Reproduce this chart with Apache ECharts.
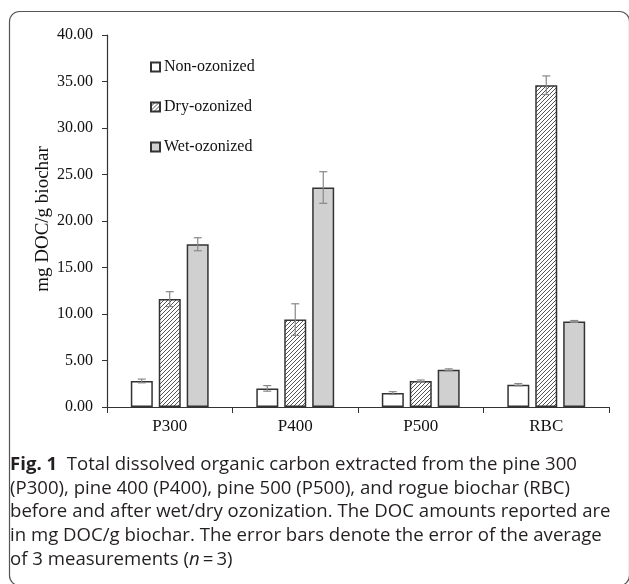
<!DOCTYPE html>
<html>
<head>
<meta charset="utf-8">
<script src="https://cdn.jsdelivr.net/npm/echarts@6/dist/echarts.min.js"></script>
<style>
  html, body { margin: 0; padding: 0; background: #fff; }
  #chart { width: 629px; height: 584px; }
</style>
</head>
<body>
<div id="chart"></div>
<script>
// data
var categories = ['P300', 'P400', 'P500', 'RBC'];
var seriesNames = ['Non-ozonized', 'Dry-ozonized', 'Wet-ozonized'];
var nonOzonized = [2.8, 2.0, 1.5, 2.4];
var nonOzonizedErr = [0.2, 0.3, 0.15, 0.12];
var dryOzonized = [11.6, 9.4, 2.8, 34.6];
var dryOzonizedErr = [0.8, 1.7, 0.1, 1.0];
var wetOzonized = [17.5, 23.6, 4.0, 9.2];
var wetOzonizedErr = [0.7, 1.7, 0.1, 0.1];
var captionLines = [
    'Total dissolved organic carbon extracted from the pine 300',
    '(P300), pine 400 (P400), pine 500 (P500), and rogue biochar (RBC)',
    'before and after wet/dry ozonization. The DOC amounts reported are',
    'in mg DOC/g biochar. The error bars denote the error of the average',
    'of 3 measurements ('
];

var serif = '"Liberation Serif", "DejaVu Serif", serif';
var sans = '"Open Sans", "Noto Sans", sans-serif';
var capSize = 18.6;

// diagonal hatch fill for the dry-ozonized bars
var makeHatch = function () {
    var c = document.createElement('canvas');
    c.width = 4;
    c.height = 4;
    var ctx = c.getContext('2d');
    ctx.fillStyle = '#fff';
    ctx.fillRect(0, 0, 4, 4);
    ctx.strokeStyle = '#555';
    ctx.lineWidth = 1;
    ctx.beginPath();
    ctx.moveTo(0, 4); ctx.lineTo(4, 0);
    ctx.moveTo(-1, 1); ctx.lineTo(1, -1);
    ctx.moveTo(3, 5); ctx.lineTo(5, 3);
    ctx.stroke();
    return c;
};

var barStyle = function (fill) {
    return { color: fill, borderColor: '#333', borderWidth: 1.5 };
};

var errorSeries = function (vals, errs, offset) {
    return {
        type: 'custom',
        silent: true,
        z: 10,
        encode: { x: 0, y: [1, 2] },
        data: vals.map(function (v, i) { return [i, v - errs[i], v + errs[i]]; }),
        renderItem: function (params, api) {
            var lo = api.coord([api.value(0), api.value(1)]);
            var hi = api.coord([api.value(0), api.value(2)]);
            var x = lo[0] + offset;
            var w = 4;
            var st = { stroke: '#888', lineWidth: 1.2 };
            return {
                type: 'group',
                children: [
                    { type: 'line', shape: { x1: x, y1: lo[1], x2: x, y2: hi[1] }, style: st },
                    { type: 'line', shape: { x1: x - w, y1: hi[1], x2: x + w, y2: hi[1] }, style: st },
                    { type: 'line', shape: { x1: x - w, y1: lo[1], x2: x + w, y2: lo[1] }, style: st }
                ]
            };
        }
    };
};

var captionGraphics = function () {
    var out = [];
    var y0 = 465;
    for (var k = 0; k < captionLines.length; k++) {
        var txt = captionLines[k];
        if (k === 0) {
            txt = '{b|Fig. 1}  ' + txt;
        }
        if (k === captionLines.length - 1) {
            txt = txt + '{i|n}\u2009=\u20093)';
        }
        out.push({
            type: 'text',
            x: 10,
            y: y0 + k * 23.6,
            style: {
                text: txt,
                font: capSize + 'px ' + sans,
                fill: '#231f20',
                verticalAlign: 'middle',
                rich: {
                    b: { fontFamily: sans, fontSize: capSize, fontWeight: 'bold', fill: '#231f20' },
                    i: { fontFamily: sans, fontSize: capSize, fontStyle: 'italic', fill: '#231f20' }
                }
            }
        });
    }
    return out;
};

var myChart = echarts.init(document.getElementById('chart'));
var option = {
    animation: false,
    backgroundColor: '#fff',
    grid: { left: 107, right: 20, top: 35, bottom: 177 },
    legend: {
        orient: 'vertical',
        left: 145,
        top: 54,
        itemWidth: 9,
        itemHeight: 9,
        itemGap: 24,
        icon: 'rect',
        data: seriesNames,
        textStyle: { fontFamily: serif, fontSize: 16, color: '#111', padding: [0, 0, 0, -1] }
    },
    xAxis: {
        type: 'category',
        data: categories,
        axisLine: { lineStyle: { color: '#333', width: 1.2 } },
        axisTick: { show: true, length: 6, lineStyle: { color: '#333' } },
        axisLabel: { fontFamily: serif, fontSize: 17, color: '#111', margin: 11 }
    },
    yAxis: {
        type: 'value',
        min: 0,
        max: 40,
        interval: 5,
        splitLine: { show: false },
        axisLine: { show: true, lineStyle: { color: '#333', width: 1.2 } },
        axisTick: { show: true, length: 5, lineStyle: { color: '#333' } },
        axisLabel: {
            fontFamily: serif, fontSize: 16, color: '#111', margin: 14,
            formatter: function (v) { return v.toFixed(2); }
        }
    },
    graphic: [
        {
            type: 'rect',
            shape: { x: 9.5, y: 11.5, width: 620, height: 574, r: 10 },
            style: { fill: 'none', stroke: '#555', lineWidth: 1.2 },
            z: -1
        },
        {
            type: 'text',
            x: 43,
            y: 219,
            rotation: Math.PI / 2,
            style: {
                text: 'mg DOC/g biochar',
                font: '19px ' + serif,
                fill: '#111',
                align: 'center',
                verticalAlign: 'middle'
            }
        }
    ].concat(captionGraphics()),
    series: [
        {
            name: seriesNames[0], type: 'bar', data: nonOzonized,
            barWidth: 22, barGap: '27%', itemStyle: barStyle('#fff')
        },
        {
            name: seriesNames[1], type: 'bar', data: dryOzonized,
            barWidth: 22, barGap: '27%',
            itemStyle: barStyle({ image: makeHatch(), repeat: 'repeat' })
        },
        {
            name: seriesNames[2], type: 'bar', data: wetOzonized,
            barWidth: 22, barGap: '27%', itemStyle: barStyle('#d0d0d0')
        },
        errorSeries(nonOzonized, nonOzonizedErr, -28),
        errorSeries(dryOzonized, dryOzonizedErr, 0),
        errorSeries(wetOzonized, wetOzonizedErr, 28)
    ]
};
myChart.setOption(option);
</script>
</body>
</html>
